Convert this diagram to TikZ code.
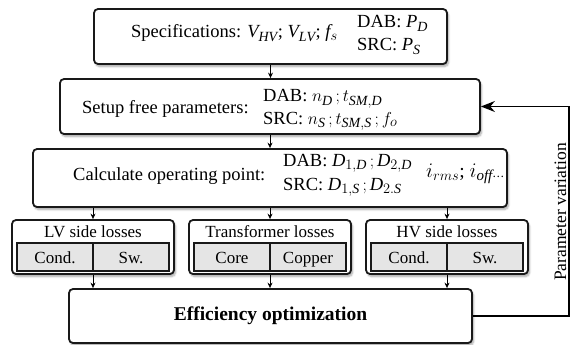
\documentclass[tikz,border=0pt]{standalone}
\usepackage{fontspec}
\setmainfont{Liberation Serif}
\usetikzlibrary{arrows.meta,shadows.blur}
\newcommand\mi[1]{\mathit{#1}}
\DeclareMathSizes{18.5}{18.5}{14}{11}
\DeclareMathSizes{19.5}{19.5}{15}{12}

\begin{document}
\begin{tikzpicture}[x=1pt,y=-1pt,
  font=\fontsize{17}{20}\selectfont,
  big/.style={font=\fontsize{18.5}{22}\selectfont},
  box/.style={draw=black!90, line width=1.8pt, rounded corners=4pt, fill=white,
    inner sep=0pt,
    blur shadow={shadow xshift=1.5pt, shadow yshift=-2.5pt, shadow opacity=35, shadow blur steps=6}},
  cell/.style={draw=black!90, line width=1.3pt, fill=black!10, inner sep=0pt,
    minimum width=76pt, minimum height=28pt},
  link/.style={line width=1pt, -{Stealth[length=5.5pt,width=5pt]}},
  fb/.style={line width=1.4pt, -{Stealth[length=14pt,width=11pt]}},
  txt/.style={inner sep=0pt, anchor=base west, big}]

\useasboundingbox (0,0) rectangle (573,345);

% main process boxes
\node[box, minimum width=353pt, minimum height=55pt] (spec)  at (270.5,36.5) {};
\node[box, minimum width=420pt, minimum height=55pt] (setup) at (270,106.5) {};
\node[box, minimum width=474pt, minimum height=58pt] (calc)  at (270,178) {};
\node[box, minimum width=403pt, minimum height=54pt] (eff)   at (270.5,316) {};

% loss boxes
\node[box, minimum width=162pt, minimum height=54pt] (lv) at (93,247) {};
\node[box, minimum width=162pt, minimum height=54pt] (tr) at (270,247) {};
\node[box, minimum width=162pt, minimum height=54pt] (hv) at (447,247) {};

% texts of the process boxes
\node[txt] (spectxt) at (131,38) {Specifications: $\mi{V}_{\mi{HV}}$; $\mi{V}_{\mi{LV}}$; $\mi{f}_{s}$};
\node[txt] (specdab) at (357,28) {DAB: $\mi{P}_{\mi{D}}$};
\node[txt] (specsrc) at (357,51) {SRC: $\mi{P}_{\mi{S}}$};

\node[txt] (setuptxt) at (82,113) {Setup free parameters:};
\node[txt] (setupdab) at (263,102) {DAB: $n_{\mi{D}}\,; t_{\mi{SM},\mi{D}}$};
\node[txt] (setupsrc) at (263,124) {SRC: $n_{\mi{S}}\,; t_{\mi{SM},\mi{S}}\,; f_{o}$};

\node[txt] (calctxt) at (73,180) {Calculate operating point:};
\node[txt] (calcdab) at (283,166) {DAB: $\mi{D}_{1,\mi{D}}\,; \mi{D}_{2,\mi{D}}$};
\node[txt] (calcsrc) at (283,190) {SRC: $\mi{D}_{1,\mi{S}}\,; \mi{D}_{2.\mi{S}}$};
\node[txt, font=\fontsize{19.5}{23}\selectfont] (calccur) at (426,177) {$i_{rms}$; $i_{\mathit{off}\cdots}$};

\node[font=\fontsize{19.5}{23}\selectfont\bfseries] (efftxt) at (270.5,316) {Efficiency optimization};

% loss box titles and cells
\node[anchor=base, inner sep=0pt] at (93,237) {LV side losses};
\node[cell] (lvc) at (55,257) {};
\node[cell] (lvs) at (131,257) {};
\node[anchor=base, inner sep=0pt] at (55,263) {Cond.};
\node[anchor=base, inner sep=0pt] at (131,263) {Sw.};

\node[anchor=base, inner sep=0pt] at (270,237) {Transformer losses};
\node[cell] (trc) at (232,257) {};
\node[cell] (trk) at (308,257) {};
\node[anchor=base, inner sep=0pt] at (232,263) {Core};
\node[anchor=base, inner sep=0pt] at (308,263) {Copper};

\node[anchor=base, inner sep=0pt] at (447,237) {HV side losses};
\node[cell] (hvc) at (409,257) {};
\node[cell] (hvs) at (485,257) {};
\node[anchor=base, inner sep=0pt] at (409,263) {Cond.};
\node[anchor=base, inner sep=0pt] at (485,263) {Sw.};

% connectors
\draw[link] (spec.south) -- (spec.south |- setup.north);
\draw[link] (setup.south) -- (setup.south |- calc.north);
\draw[link] (calc.south -| lv) -- (lv.north);
\draw[link] (calc.south -| tr) -- (tr.north);
\draw[link] (calc.south -| hv) -- (hv.north);
\draw[link] (lv.south) -- (lv.south |- eff.north);
\draw[link] (tr.south) -- (tr.south |- eff.north);
\draw[link] (hv.south) -- (hv.south |- eff.north);

% feedback loop
\coordinate (turn) at (569,106.5);
\draw[fb] (eff.east) -- (eff.east -| turn) -- (turn) -- (setup.east);
\node[anchor=base, inner sep=0pt, rotate=90, font=\fontsize{17.5}{21}\selectfont] (pv) at (566,212) {Parameter variation};
\end{tikzpicture}
\end{document}
